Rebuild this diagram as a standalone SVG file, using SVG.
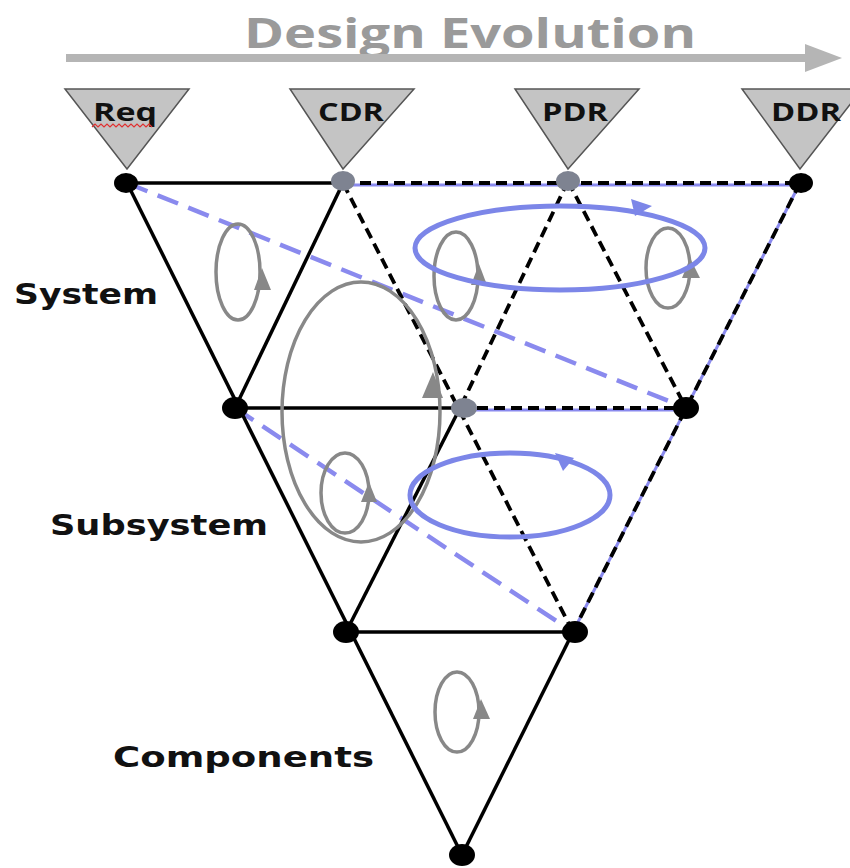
<svg xmlns="http://www.w3.org/2000/svg" width="850" height="868" viewBox="0 0 850 868">
<defs>
<style>
.solid{stroke:#000;stroke-width:3.5;fill:none}
.dash{stroke:#000;stroke-width:3.8;stroke-dasharray:11,6;fill:none}
.blue{stroke:#8a8aee;stroke-width:4.5;stroke-dasharray:22,11;fill:none}
.bu{stroke:#8a8aee;stroke-width:3;fill:none}
.gl{stroke:#888;stroke-width:3.5;fill:none}
.bl{stroke:#7c86e8;stroke-width:5;fill:none}
.ga{fill:#888}
.ba{fill:#7c86e8}
.nb{fill:#000}
.ng{fill:#7e8391}
.tri{fill:#c4c4c4;stroke:#555;stroke-width:1.5}
.lab{font-family:"Open Sans","Liberation Sans",sans-serif;font-weight:bold;font-size:25px;fill:#111}
.side{font-family:"DejaVu Sans","Open Sans",sans-serif;font-weight:bold;font-size:29px;fill:#111}
</style>
</defs>
<!-- title -->
<g id="title">
<text x="470" y="48" text-anchor="middle" font-family="'Open Sans','DejaVu Sans',sans-serif" font-weight="bold" font-size="42" fill="#9a9a9a" textLength="452" lengthAdjust="spacingAndGlyphs">Design Evolution</text>
<line x1="66" y1="58" x2="808" y2="58" stroke="#b5b5b5" stroke-width="8"/>
<polygon points="805,44 842,58 805,72" fill="#b5b5b5"/>
</g>
<!-- milestone triangles -->
<g id="req"><polygon class="tri" points="65,89 189,89 127,169"/><text class="lab" x="125" y="121" text-anchor="middle" textLength="64" lengthAdjust="spacingAndGlyphs">Req</text>
<path d="M92,127 l3,-3 l3,3 l3,-3 l3,3 l3,-3 l3,3 l3,-3 l3,3 l3,-3 l3,3 l3,-3 l3,3 l3,-3 l3,3 l3,-3 l3,3 l3,-3 l3,3 l3,-3 l3,3" fill="none" stroke="#e03030" stroke-width="1.2"/></g>
<g id="cdr"><polygon class="tri" points="290,89 414,89 343,169"/><text class="lab" x="351" y="121" text-anchor="middle" textLength="66" lengthAdjust="spacingAndGlyphs">CDR</text></g>
<g id="pdr"><polygon class="tri" points="515,89 639,89 568,169"/><text class="lab" x="575" y="121" text-anchor="middle" textLength="66" lengthAdjust="spacingAndGlyphs">PDR</text></g>
<g id="ddr"><polygon class="tri" points="742,89 862,89 800,169"/><text class="lab" x="806" y="121" text-anchor="middle" textLength="70" lengthAdjust="spacingAndGlyphs">DDR</text></g>
<!-- connectors -->
<g id="connectors">
<line class="bu" x1="343" y1="185" x2="800" y2="185"/>
<line class="bu" x1="460" y1="410" x2="686" y2="410"/>
<line class="bu" x1="800" y1="183" x2="573" y2="632"/>
<line class="blue" x1="127" y1="183" x2="686" y2="408"/>
<line class="blue" x1="235" y1="408" x2="573" y2="632"/>
<line class="solid" x1="127" y1="183" x2="343" y2="183"/>
<line class="solid" x1="127" y1="183" x2="462" y2="855"/>
<line class="solid" x1="343" y1="183" x2="235" y2="408"/>
<line class="solid" x1="235" y1="408" x2="460" y2="408"/>
<line class="solid" x1="460" y1="408" x2="346" y2="632"/>
<line class="solid" x1="346" y1="632" x2="573" y2="632"/>
<line class="solid" x1="573" y1="632" x2="462" y2="855"/>
<line class="dash" x1="343" y1="183" x2="800" y2="183"/>
<line class="dash" x1="343" y1="183" x2="573" y2="632"/>
<line class="dash" x1="568" y1="181" x2="460" y2="408"/>
<line class="dash" x1="568" y1="181" x2="686" y2="408"/>
<line class="dash" x1="460" y1="408" x2="686" y2="408"/>
<line class="dash" x1="800" y1="183" x2="573" y2="632"/>
</g>
<!-- loops -->
<g id="loops">
<ellipse class="gl" cx="238" cy="272" rx="22" ry="48"/>
<polygon class="ga" points="254,290 262,268 271,290"/>
<ellipse class="gl" cx="361" cy="412" rx="79" ry="130"/>
<polygon class="ga" points="422,398 433,372 443,398"/>
<ellipse class="gl" cx="345" cy="493" rx="24" ry="40"/>
<polygon class="ga" points="361,502 369,482 377,502"/>
<ellipse class="gl" cx="456" cy="276" rx="22" ry="44"/>
<polygon class="ga" points="471,285 479,264 487,285"/>
<ellipse class="gl" cx="668" cy="268" rx="22" ry="40"/>
<polygon class="ga" points="682,278 690,258 700,278"/>
<ellipse class="gl" cx="457" cy="712" rx="22" ry="40"/>
<polygon class="ga" points="473,719 481,699 490,719"/>
<ellipse class="bl" cx="560" cy="248" rx="145" ry="42"/>
<polygon class="ba" points="631,199 652,206 635,216"/>
<ellipse class="bl" cx="510" cy="495" rx="100" ry="42"/>
<polygon class="ba" points="555,453 574,458 563,471"/>
</g>
<!-- nodes -->
<g id="n_req"><ellipse class="nb" cx="126" cy="183" rx="12" ry="10"/></g>
<g id="n_cdr"><ellipse class="ng" cx="343" cy="181" rx="12" ry="10"/></g>
<g id="n_pdr"><ellipse class="ng" cx="568" cy="181" rx="12" ry="10"/></g>
<g id="n_ddr"><ellipse class="nb" cx="801" cy="183" rx="12" ry="10"/></g>
<g id="n_s1"><ellipse class="nb" cx="235" cy="408" rx="13" ry="11"/></g>
<g id="n_s2"><ellipse class="ng" cx="464" cy="408" rx="13" ry="10"/></g>
<g id="n_s3"><ellipse class="nb" cx="686" cy="408" rx="13" ry="11"/></g>
<g id="n_c1"><ellipse class="nb" cx="346" cy="632" rx="13" ry="11"/></g>
<g id="n_c2"><ellipse class="nb" cx="575" cy="632" rx="13" ry="11"/></g>
<g id="n_bot"><ellipse class="nb" cx="462" cy="855" rx="13" ry="11"/></g>
<!-- side labels -->
<g id="labels">
<text class="side" x="14" y="304" textLength="144" lengthAdjust="spacingAndGlyphs">System</text>
<text class="side" x="50" y="535" textLength="218" lengthAdjust="spacingAndGlyphs">Subsystem</text>
<text class="side" x="113" y="767" textLength="261" lengthAdjust="spacingAndGlyphs">Components</text>
</g>
</svg>
